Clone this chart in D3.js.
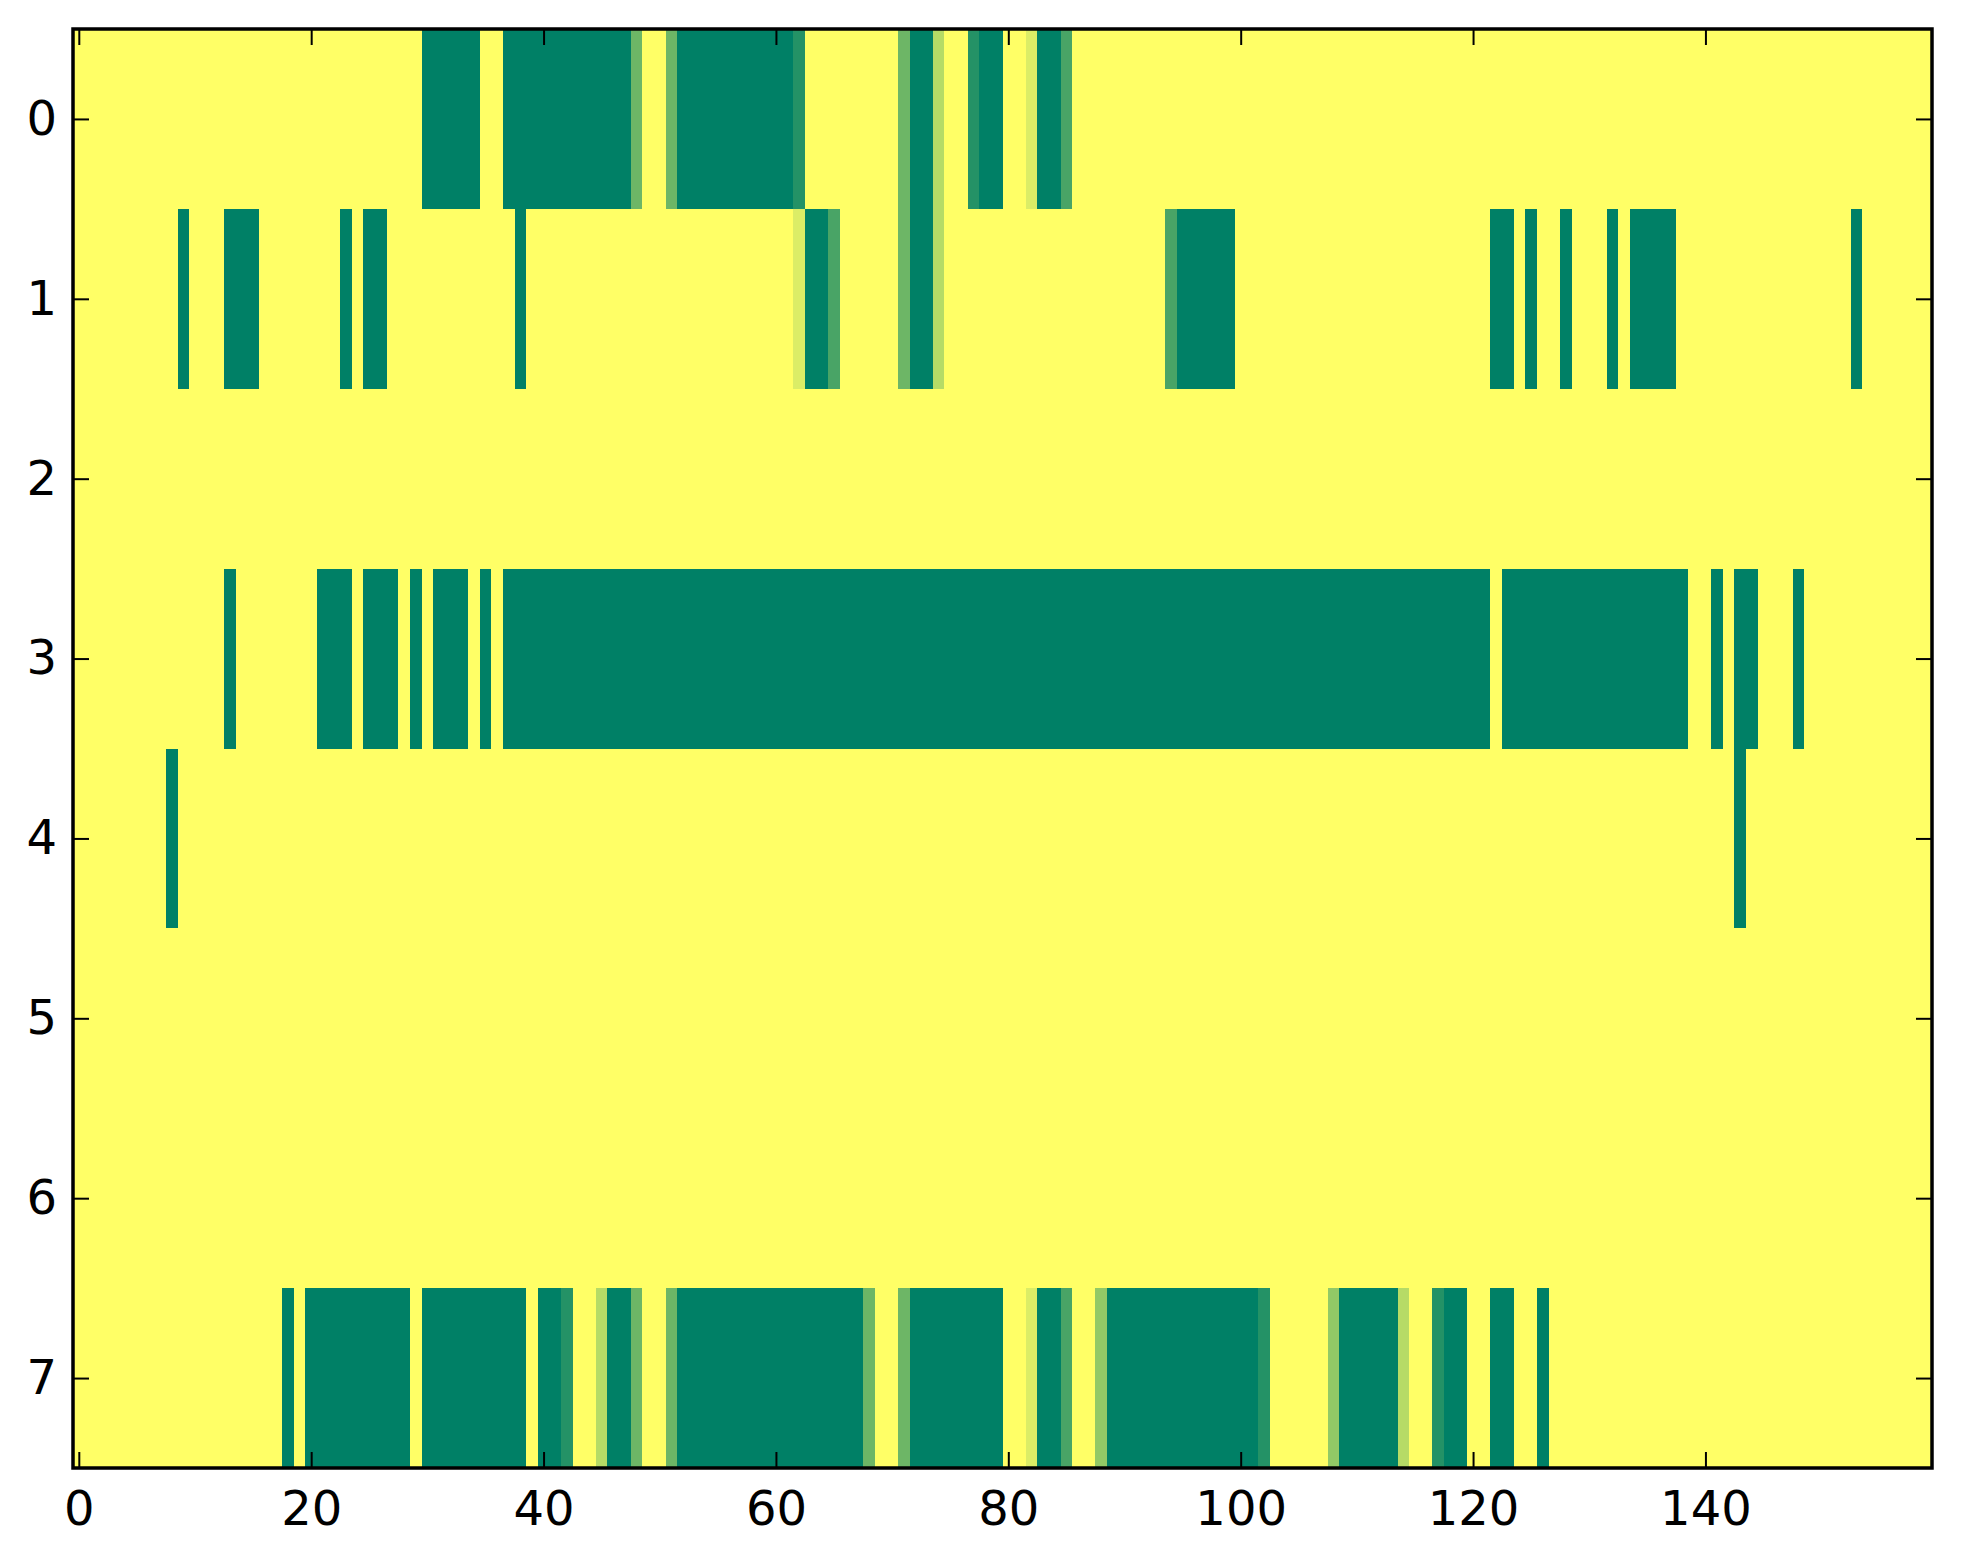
<!DOCTYPE html>
<html>
<head>
<meta charset="utf-8">
<script src="https://cdn.jsdelivr.net/npm/d3@7"></script>
<style>
    body { margin: 0; background: #ffffff; }
    svg { display: block; }
</style>
</head>
<body>
<div id="chart"></div>
<script>
// image is 8 rows x 160 columns; values are levels out of 7 (0 = empty)
const nCols = 160;
const rowIds = [0, 1, 2, 3, 4, 5, 6, 7];
const xTickValues = [0, 20, 40, 60, 80, 100, 120, 140];

// runs per row: [firstCol, lastCol, level]
const row0 = [[30, 34, 7], [37, 47, 7], [48, 48, 4], [51, 51, 4], [52, 61, 7], [62, 62, 6],
    [71, 71, 4], [72, 73, 7], [74, 74, 2], [77, 77, 6], [78, 79, 7], [82, 82, 1], [83, 84, 7], [85, 85, 5]];
const row1 = [[9, 9, 7], [13, 15, 7], [23, 23, 7], [25, 26, 7], [38, 38, 7], [62, 62, 1], [63, 64, 7],
    [65, 65, 5], [71, 71, 4], [72, 73, 7], [74, 74, 2], [94, 94, 5], [95, 99, 7], [122, 123, 7],
    [125, 125, 7], [128, 128, 7], [132, 132, 7], [134, 137, 7], [153, 153, 7]];
const row2 = [];
const row3 = [[13, 13, 7], [21, 23, 7], [25, 27, 7], [29, 29, 7], [31, 33, 7], [35, 35, 7], [37, 121, 7],
    [123, 138, 7], [141, 141, 7], [143, 144, 7], [148, 148, 7]];
const row4 = [[8, 8, 7], [143, 143, 7]];
const row5 = [];
const row6 = [];
const row7 = [[18, 18, 7], [20, 28, 7], [30, 38, 7], [40, 41, 7], [42, 42, 6], [45, 45, 2], [46, 47, 7],
    [48, 48, 4], [51, 51, 4], [52, 67, 7], [68, 68, 4], [71, 71, 4], [72, 79, 7], [82, 82, 1], [83, 84, 7],
    [85, 85, 5], [88, 88, 3], [89, 101, 7], [102, 102, 6], [108, 108, 3], [109, 113, 7], [114, 114, 2],
    [117, 117, 6], [118, 119, 7], [122, 123, 7], [126, 126, 7]];

const rowRuns = [row0, row1, row2, row3, row4, row5, row6, row7];

const WIDTH = 1963, HEIGHT = 1564;
const PLOT = {left: 73, right: 1932, top: 29, bottom: 1468};
const FONT_FAMILY = "'DejaVu Sans', sans-serif";
const FONT_SIZE = 48;
const TICK_LEN = 16;

// expand runs into one cell per column
let cells = [];
rowIds.forEach(function (r) {
    let levels = new Array(nCols).fill(0);
    rowRuns[r].forEach(function (run) {
        for (let c = run[0]; c <= run[1]; c++) levels[c] = run[2];
    });
    levels.forEach(function (lv, c) {
        cells.push({row: r, col: c, level: lv});
    });
});

let svg = d3.select("#chart")
    .append("svg")
    .attr("width", WIDTH)
    .attr("height", HEIGHT);

svg.append("rect")
    .attr("width", WIDTH)
    .attr("height", HEIGHT)
    .attr("fill", "#ffffff");

let x = d3.scaleLinear()
    .domain([-0.5, nCols - 0.5])
    .range([PLOT.left, PLOT.right]);

let y = d3.scaleLinear()
    .domain([-0.5, rowIds.length - 0.5])
    .range([PLOT.top, PLOT.bottom]);

// summer_r: level 0 yellow -> level 7 green
let color = d3.scaleLinear()
    .domain([0, 7])
    .range(["#ffff66", "#008066"]);

svg.append("g")
    .selectAll("rect")
    .data(cells)
    .enter()
    .append("rect")
    .attr("x", d => x(d.col - 0.5))
    .attr("y", d => y(d.row - 0.5))
    .attr("width", d => x(d.col + 0.5) - x(d.col - 0.5) + 0.3)
    .attr("height", d => y(d.row + 0.5) - y(d.row - 0.5) + 0.3)
    .attr("fill", d => color(d.level))
    .attr("shape-rendering", "crispEdges");

function styleAxis(g, showLabels) {
    g.select(".domain").remove();
    g.selectAll(".tick line")
        .attr("stroke", "#000")
        .attr("stroke-width", 2);
    g.selectAll(".tick text")
        .style("font-family", FONT_FAMILY)
        .style("font-size", FONT_SIZE + "px")
        .attr("fill", "#000");
    if (!showLabels) g.selectAll(".tick text").remove();
}

svg.append("g")
    .attr("transform", "translate(0," + PLOT.bottom + ")")
    .call(d3.axisBottom(x).tickValues(xTickValues).tickSizeInner(-TICK_LEN).tickSizeOuter(0).tickPadding(23))
    .call(g => styleAxis(g, true));

svg.append("g")
    .attr("transform", "translate(0," + PLOT.top + ")")
    .call(d3.axisTop(x).tickValues(xTickValues).tickSizeInner(-TICK_LEN).tickSizeOuter(0))
    .call(g => styleAxis(g, false));

svg.append("g")
    .attr("transform", "translate(" + PLOT.left + ",0)")
    .call(d3.axisLeft(y).tickValues(rowIds).tickSizeInner(-TICK_LEN).tickSizeOuter(0).tickPadding(16))
    .call(g => styleAxis(g, true));

svg.append("g")
    .attr("transform", "translate(" + PLOT.right + ",0)")
    .call(d3.axisRight(y).tickValues(rowIds).tickSizeInner(-TICK_LEN).tickSizeOuter(0))
    .call(g => styleAxis(g, false));

// frame
svg.append("rect")
    .attr("x", PLOT.left)
    .attr("y", PLOT.top)
    .attr("width", PLOT.right - PLOT.left)
    .attr("height", PLOT.bottom - PLOT.top)
    .attr("fill", "none")
    .attr("stroke", "#000")
    .attr("stroke-width", 3.5);
</script>
</body>
</html>
